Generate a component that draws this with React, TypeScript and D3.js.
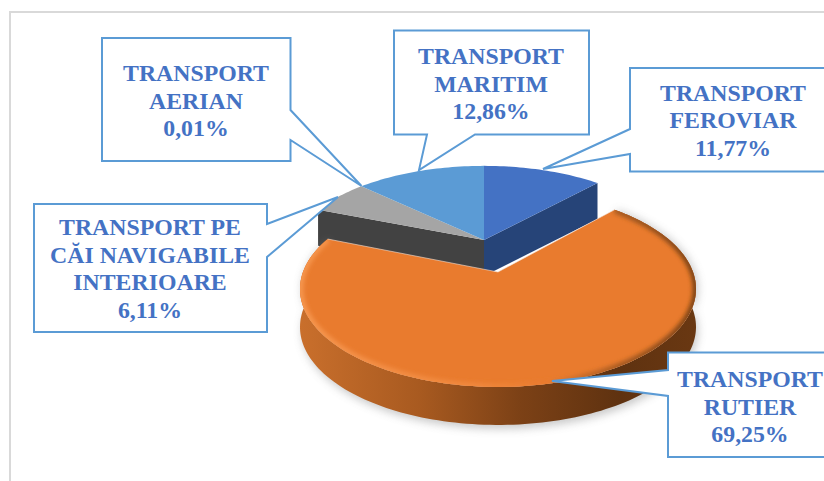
import React from 'react';
import * as d3 from 'd3';

const categories = ['TRANSPORT FEROVIAR', 'TRANSPORT RUTIER', 'TRANSPORT PE CĂI NAVIGABILE INTERIOARE', 'TRANSPORT AERIAN', 'TRANSPORT MARITIM'];
const values = [11.77, 69.25, 6.11, 0.01, 12.86];
const labelLines = [
  ['TRANSPORT', 'FEROVIAR'],
  ['TRANSPORT', 'RUTIER'],
  ['TRANSPORT PE', 'CĂI NAVIGABILE', 'INTERIOARE'],
  ['TRANSPORT', 'AERIAN'],
  ['TRANSPORT', 'MARITIM'],
];
const topColors = ['#4472c4', '#e97b2e', '#a5a5a5', '#ffc000', '#5b9bd5'];
const wallColors = ['#264478', '#843c0c', '#424242', '#7f6000', '#2e75b6'];

const WIDTH = 824;
const HEIGHT = 481;
const EXPLODED = 1; // index of the pulled out slice
const TILT = 0.1735; // perspective strength of the disc

// callouts, same order as the categories
const boxes = [
  { x: 630, y: 68, w: 210, h: 103.5, cx: 733, base: 100.7, tip: [543, 169], a: [630, 129], b: [630, 154] },
  { x: 668, y: 352.5, w: 180, h: 104.5, cx: 750, base: 387, tip: [552, 381], a: [668, 370], b: [668, 396] },
  { x: 34, y: 204, w: 233, h: 128, cx: 150, base: 235, tip: [338, 197], a: [267, 224], b: [267, 257] },
  { x: 102, y: 38, w: 188.5, h: 123, cx: 196, base: 81, tip: [361.5, 186], a: [290.5, 110], b: [290.5, 140] },
  { x: 394, y: 30.5, w: 195, h: 104, cx: 491, base: 64, tip: [419, 170], a: [427, 134.5], b: [475, 134.5] },
];

type Disc = { x: number; y: number; rx: number; ry: number; depth: number };
const mainDisc: Disc = { x: 484, y: 240, rx: 190, ry: 87, depth: 36 };
const pulledDisc: Disc = { x: 498, y: 272, rx: 195, ry: 95, depth: 38 };

const project = (d: Disc, angle: number, dy = 0): [number, number] => {
  const w = 1 + TILT * Math.cos(angle);
  return [d.x + (d.rx * Math.sin(angle)) / w, d.y - (d.ry * Math.cos(angle)) / w + dy];
};

const slices = d3.pie<number>().sort(null)(values);
const line = d3.line();
const formatValue = (v: number) => d3.format('.2f')(v).replace('.', ',') + '%';

const arcPoints = (d: Disc, s: d3.PieArcDatum<number>, dy = 0) => {
  const n = Math.max(2, Math.ceil((s.endAngle - s.startAngle) * 40));
  return d3.range(n + 1).map((i) => project(d, s.startAngle + ((s.endAngle - s.startAngle) * i) / n, dy));
};

const topPath = (d: Disc, s: d3.PieArcDatum<number>) => line([[d.x, d.y], ...arcPoints(d, s)]) + 'Z';
const rimPath = (d: Disc, s: d3.PieArcDatum<number>) =>
  line([...arcPoints(d, s), ...arcPoints(d, s, d.depth).reverse()]) + 'Z';
const radialWall = (d: Disc, angle: number) =>
  line([[d.x, d.y], project(d, angle), project(d, angle, d.depth), [d.x, d.y + d.depth]]) + 'Z';

export default function App() {
  const pulled = slices[EXPLODED];
  const others = slices.filter((_, i) => i !== EXPLODED);
  const front = arcPoints(pulledDisc, pulled);
  // the gap left by the pulled slice only shows the two walls next to it
  const before = slices[EXPLODED - 1];
  const after = slices[EXPLODED + 1];

  return (
    <svg width={WIDTH} height={HEIGHT} style={{ position: 'absolute', left: 0, top: 0, background: '#fff' }}>
      <defs>
        <linearGradient id="rimGrad" gradientUnits="userSpaceOnUse" x1={300} x2={700} y1={0} y2={0}>
          <stop offset="0" stopColor="#c96f2c" />
          <stop offset="0.3" stopColor="#a85a20" />
          <stop offset="0.55" stopColor="#7c4116" />
          <stop offset="0.8" stopColor="#5f3210" />
          <stop offset="1" stopColor="#6a3812" />
        </linearGradient>
        <linearGradient id="bevelGrad" gradientUnits="userSpaceOnUse" x1={300} x2={700} y1={0} y2={0}>
          <stop offset="0" stopColor="#f6964f" />
          <stop offset="0.45" stopColor="#f0873c" />
          <stop offset="0.62" stopColor="#e97b2e" />
          <stop offset="0.8" stopColor="#a55a22" />
          <stop offset="1" stopColor="#7a4216" />
        </linearGradient>
        <filter id="soft" x="-10%" y="-10%" width="120%" height="120%">
          <feGaussianBlur stdDeviation="4" />
        </filter>
        <filter id="softEdge" x="-5%" y="-5%" width="110%" height="110%">
          <feGaussianBlur stdDeviation="2" />
        </filter>
        <clipPath id="pulledTop">
          <path d={topPath(pulledDisc, pulled)} />
        </clipPath>
      </defs>

      <path d={`M10,${HEIGHT}V12H${WIDTH}`} fill="none" stroke="#d9d9d9" strokeWidth={2} />

      {/* back slices, walls first */}
      <path d={radialWall(mainDisc, before.endAngle)} fill={wallColors[before.index]} />
      <path d={radialWall(mainDisc, after.startAngle)} fill={wallColors[after.index]} />
      {others.map((s) => (
        <path key={s.index} d={topPath(mainDisc, s)} fill={topColors[s.index]} />
      ))}

      {/* pulled out slice */}
      <path
        d={rimPath({ ...pulledDisc, x: pulledDisc.x + 2, depth: pulledDisc.depth + 4 }, pulled)}
        fill="#8a8a8a"
        opacity={0.45}
        filter="url(#soft)"
      />
      <path d={rimPath(pulledDisc, pulled)} fill="url(#rimGrad)" />
      <path d={topPath(pulledDisc, pulled)} fill={topColors[EXPLODED]} />
      <g clipPath="url(#pulledTop)">
        <path d={line(front) ?? ''} fill="none" stroke="url(#bevelGrad)" strokeWidth={7} filter="url(#softEdge)" />
      </g>
      <path
        d={line([project(pulledDisc, pulled.startAngle), [pulledDisc.x, pulledDisc.y], project(pulledDisc, pulled.endAngle)]) ?? ''}
        fill="none"
        stroke="#f3e3d6"
        strokeWidth={0.6}
      />

      {/* callouts */}
      {boxes.map((b, i) => {
        const x1 = b.x + b.w;
        const y1 = b.y + b.h;
        // the pointer leaves from whichever side its base sits on
        let outline: [number, number][];
        if (b.a[0] === b.x) {
          outline = [[b.x, b.y], [x1, b.y], [x1, y1], [b.x, y1], [b.b[0], b.b[1]], [b.tip[0], b.tip[1]], [b.a[0], b.a[1]]];
        } else if (b.a[0] === x1) {
          outline = [[b.x, b.y], [x1, b.y], [b.a[0], b.a[1]], [b.tip[0], b.tip[1]], [b.b[0], b.b[1]], [x1, y1], [b.x, y1]];
        } else {
          outline = [[b.x, b.y], [x1, b.y], [x1, y1], [b.b[0], b.b[1]], [b.tip[0], b.tip[1]], [b.a[0], b.a[1]], [b.x, y1]];
        }
        const lines = [...labelLines[i], formatValue(values[i])];
        return (
          <g key={categories[i]}>
            <path d={line(outline) + 'Z'} fill="#fff" stroke="#5b9bd5" strokeWidth={2} strokeLinejoin="miter" />
            <text
              textAnchor="middle"
              fontFamily="'Liberation Serif', serif"
              fontWeight="bold"
              fontSize={23.8}
              fill="#4472c4"
            >
              {lines.map((t, k) => (
                <tspan key={k} x={b.cx} y={b.base + k * 27.5}>
                  {t}
                </tspan>
              ))}
            </text>
          </g>
        );
      })}
    </svg>
  );
}
